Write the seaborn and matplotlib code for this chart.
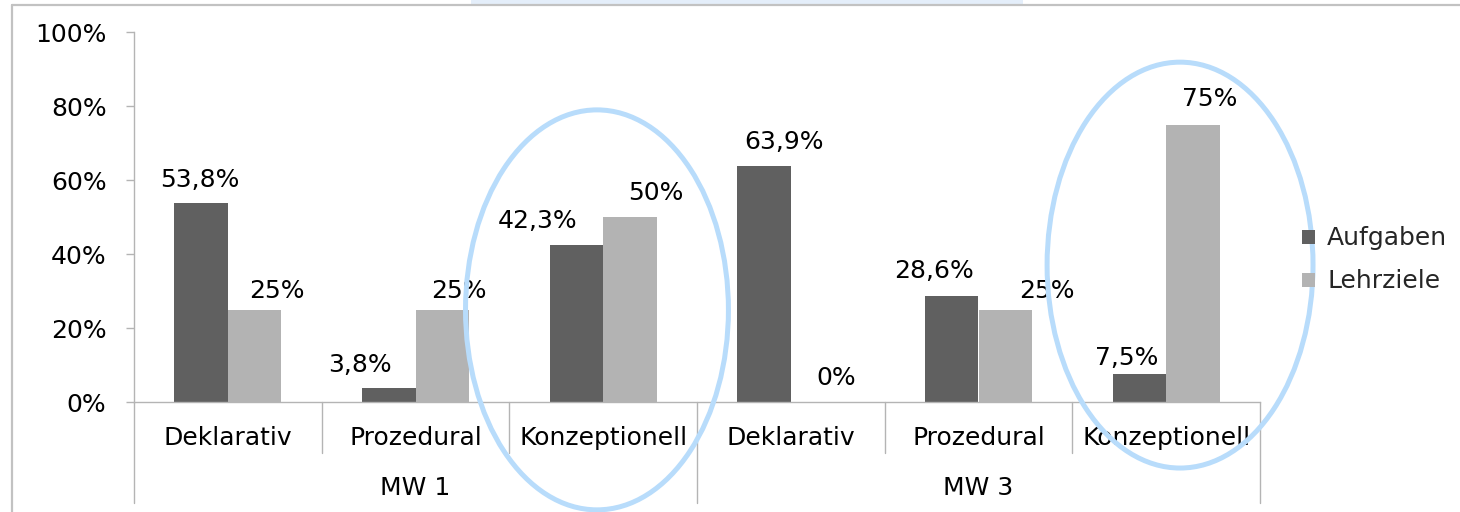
import numpy as np
import pandas as pd
import seaborn as sns
import matplotlib
matplotlib.use("Agg")
import matplotlib.pyplot as plt
from matplotlib.patches import Ellipse, Rectangle, Patch
from matplotlib.lines import Line2D
import matplotlib.transforms as mtransforms

# ---- data -------------------------------------------------------------
groups = ["MW 1", "MW 1", "MW 1", "MW 3", "MW 3", "MW 3"]
categories = ["Deklarativ", "Prozedural", "Konzeptionell",
              "Deklarativ", "Prozedural", "Konzeptionell"]
aufgaben = [53.8, 3.8, 42.3, 63.9, 28.6, 7.5]
lehrziele = [25, 25, 50, 0, 25, 75]
series = ["Aufgaben", "Lehrziele"]
y_ticks = [0, 20, 40, 60, 80, 100]

# label offsets (pixels) relative to the top centre of each bar
aufgaben_label_offset = [(-1, 23), (-29, 23), (-39, 24), (20, 24), (-18, 25), (-13, 16)]
lehrziele_label_offset = [(22, 19), (17, 19), (26, 24), (19, 24), (42, 19), (17, 26)]

DARK = "#606060"
LIGHT = "#b3b3b3"
AXIS_GREY = "#b4b4b4"
RING = "#b8dcfb"

keys = [f"{g}|{c}" for g, c in zip(groups, categories)]
df = pd.DataFrame({
    "key": keys * 2,
    "series": [series[0]] * 6 + [series[1]] * 6,
    "value": aufgaben + lehrziele,
})

sns.set_theme(style="white")
plt.rcParams["font.family"] = ["DejaVu Sans"]
plt.rcParams["font.size"] = 18

W, H, DPI = 1460, 512, 100
fig = plt.figure(figsize=(W / DPI, H / DPI), dpi=DPI)
ax = fig.add_axes([134 / W, 1 - 402 / H, (1260 - 134) / W, 370 / H])

sns.barplot(data=df, x="key", y="value", hue="series", order=keys,
            hue_order=series, palette=[DARK, LIGHT], width=0.57, gap=0,
            linewidth=0, saturation=1, ax=ax, legend=False)

ax.set_xlim(-0.5, 5.5)
ax.set_ylim(0, 100)
ax.set_xlabel("")
ax.set_ylabel("")

# axes styling
for side in ("top", "right"):
    ax.spines[side].set_visible(False)
for side in ("left", "bottom"):
    ax.spines[side].set_color(AXIS_GREY)
    ax.spines[side].set_linewidth(1.0)
ax.set_yticks(y_ticks)
ax.set_yticklabels([f"{t}%" for t in y_ticks], fontsize=18, color="black")
ax.tick_params(axis="y", length=5.8, width=1.0, color=AXIS_GREY, pad=14, left=True)
ax.set_xticks(range(6))
ax.set_xticklabels(categories, fontsize=18, color="black")
ax.tick_params(axis="x", length=0, pad=17)

# category / group separators below the axis
blend = mtransforms.blended_transform_factory(ax.transData, ax.transAxes)
for xs in (0.5, 1.5, 3.5, 4.5):
    ax.plot([xs, xs], [0, -51 / 370], color=AXIS_GREY, lw=1.0,
            transform=blend, clip_on=False)
for xs in (-0.5, 2.5, 5.5):
    ax.plot([xs, xs], [0, -101 / 370], color=AXIS_GREY, lw=1.0,
            transform=blend, clip_on=False)
for gx, gname in ((1, "MW 1"), (4, "MW 3")):
    ax.text(gx, -86 / 370, gname, transform=blend, ha="center", va="center",
            fontsize=18, color="black")

# value labels
px = 72 / DPI
for cont, vals, offs in zip(ax.containers, (aufgaben, lehrziele),
                            (aufgaben_label_offset, lehrziele_label_offset)):
    for rect, v, (dx, dy) in zip(cont, vals, offs):
        txt = f"{v:.0f}%" if float(v).is_integer() else f"{v:.1f}%".replace(".", ",")
        ax.annotate(txt, xy=(rect.get_x() + rect.get_width() / 2, rect.get_height()),
                    xytext=(dx * px, dy * px), textcoords="offset points",
                    ha="center", va="center", fontsize=18, color="black",
                    annotation_clip=False)

# legend
handles = [Patch(facecolor=DARK, edgecolor="none"), Patch(facecolor=LIGHT, edgecolor="none")]
fig.legend(handles, series, loc="center left",
           bbox_to_anchor=(1302 / W, 1 - 260 / H), frameon=False,
           fontsize=18, handlelength=0.5, handleheight=0.5,
           handletextpad=0.5, labelspacing=0.76, borderpad=0, borderaxespad=0)

# highlight rings around the "Konzeptionell" groups
for cx, cy, w, h in ((1.967, 24.9, 1.401, 108.1), (5.074, 37.0, 1.417, 109.7)):
    ax.add_patch(Ellipse((cx, cy), w, h, fill=False, edgecolor=RING,
                         lw=3.6, clip_on=False, zorder=5))

# slide frame
fig.add_artist(Line2D([12 / W, 1], [1 - 5 / H, 1 - 5 / H], color="#c2c2c2",
                      lw=1.6, transform=fig.transFigure))
fig.add_artist(Line2D([12 / W, 12 / W], [0, 1 - 5 / H], color="#c2c2c2",
                      lw=1.6, transform=fig.transFigure))
fig.add_artist(Rectangle((471 / W, 1 - 4 / H), (1023 - 471) / W, 4 / H,
                         facecolor="#e4eefa", edgecolor="none",
                         transform=fig.transFigure))

fig.savefig("out.png", dpi=DPI)
